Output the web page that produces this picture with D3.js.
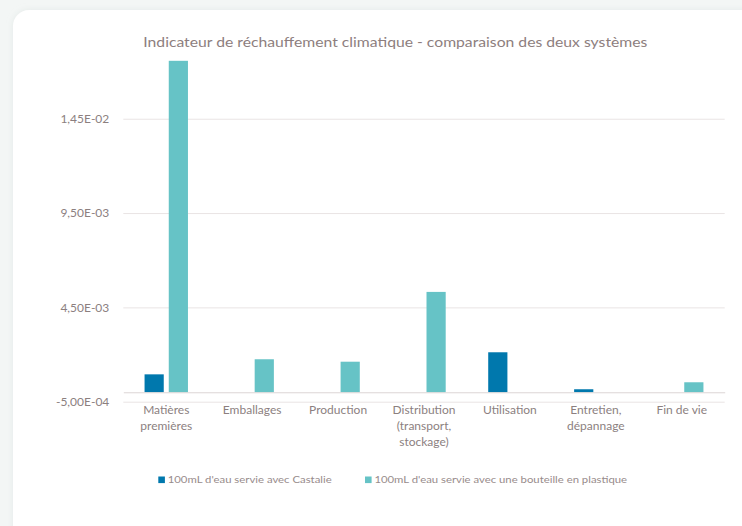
<!DOCTYPE html>
<html>
<head>
<meta charset="utf-8">
<script src="https://cdn.jsdelivr.net/npm/d3@7"></script>
<style>
  html, body { margin: 0; padding: 0; background: #f3f6f5; }
  svg { display: block; }
</style>
</head>
<body>
<svg id="chart" width="742" height="526"></svg>
<script>
// ---- data ----
const categories = ["Matières premières", "Emballages", "Production", "Distribution (transport, stockage)", "Utilisation", "Entretien, dépannage", "Fin de vie"];
const categoryLines = [["Matières", "premières"], ["Emballages"], ["Production"], ["Distribution", "(transport,", "stockage)"], ["Utilisation"], ["Entretien,", "dépannage"], ["Fin de vie"]];
const seriesNames = ["100mL d'eau servie avec Castalie", "100mL d'eau servie avec une bouteille en plastique"];
const castalie = [0.00095, 0, 0, 0, 0.00212, 0.00016, 0];
const plastique = [0.01757, 0.00175, 0.00162, 0.00532, 0, 0, 0.00053];
const yTicks = [-0.0005, 0.0045, 0.0095, 0.0145];
const yTickLabels = ["-5,00E-04", "4,50E-03", "9,50E-03", "1,45E-02"];
const title = "Indicateur de réchauffement climatique - comparaison des deux systèmes";
const colors = ["#0078ad", "#66c3c6"];

// ---- layout ----
const svg = d3.select("#chart");
const textCol = "#8c7f7f";
const font = "Lato, 'Open Sans', sans-serif";

// card
svg.append("defs").append("filter").attr("id", "sh")
  .attr("x", "-5%").attr("y", "-5%").attr("width", "110%").attr("height", "110%")
  .append("feDropShadow").attr("dx", 0).attr("dy", 0).attr("stdDeviation", 3)
  .attr("flood-color", "#c8d2d0").attr("flood-opacity", 0.35);
svg.append("rect").attr("x", 13).attr("y", 10).attr("width", 770).attr("height", 540)
  .attr("rx", 16).attr("fill", "#ffffff").attr("filter", "url(#sh)");

const plotLeft = 123.3, plotRight = 724.7;
const y = d3.scaleLinear().domain([-0.0005, 0.0195]).range([401.7, 24.4]);
const x = d3.scaleBand().domain(categories).range([plotLeft, plotRight]).paddingInner(0).paddingOuter(0);
const groupW = 43.4;
const xs = d3.scaleBand().domain([0, 1])
  .range([(x.bandwidth() - groupW) / 2, (x.bandwidth() + groupW) / 2])
  .paddingInner(0.207).paddingOuter(0);

// title
svg.append("text").attr("x", 143.3).attr("y", 46.5)
  .attr("font-family", font).attr("font-size", 14).attr("fill", "#8d7e7e")
  .attr("textLength", 504).attr("lengthAdjust", "spacingAndGlyphs")
  .text(title);

// gridlines via axis
const yAxis = d3.axisLeft(y).tickValues(yTicks).tickFormat((d, i) => yTickLabels[i])
  .tickSize(-(plotRight - plotLeft)).tickPadding(14);
const gy = svg.append("g").attr("transform", `translate(${plotLeft},0)`).call(yAxis);
gy.select(".domain").remove();
gy.selectAll(".tick line").attr("stroke", "#e9e4e4").attr("stroke-width", 1);
gy.selectAll(".tick text").attr("font-family", font).attr("font-size", 12)
  .attr("fill", textCol);

// bars
const data = categories.map((c, i) => ({ c, vals: [castalie[i], plastique[i]] }));
const groups = svg.append("g").selectAll("g").data(data).join("g")
  .attr("transform", d => `translate(${x(d.c)},0)`);
groups.selectAll("rect").data(d => d.vals.map((v, s) => ({ v, s }))).join("rect")
  .filter(d => d.v !== 0)
  .attr("x", d => xs(d.s))
  .attr("width", xs.bandwidth())
  .attr("y", d => y(Math.max(0, d.v)))
  .attr("height", d => Math.abs(y(d.v) - y(0)))
  .attr("fill", d => colors[d.s]);

// x axis line at zero
const xAxis = d3.axisBottom(x).tickSize(0).tickFormat("");
const gx = svg.append("g").attr("transform", `translate(0,${y(0)})`).call(xAxis);
gx.select(".domain").attr("stroke", "#dcd5d5").attr("stroke-width", 1);

// category labels
const labG = svg.append("g");
categories.forEach((c, i) => {
  const t = labG.append("text").attr("x", x(c) + x.bandwidth() / 2).attr("y", 414)
    .attr("text-anchor", "middle").attr("font-family", font).attr("font-size", 12)
    .attr("fill", textCol);
  categoryLines[i].forEach((ln, j) => {
    t.append("tspan").attr("x", x(c) + x.bandwidth() / 2).attr("dy", j === 0 ? 0 : 16).text(ln);
  });
});

// legend
const legX = [158.3, 365];
const legLen = [164, 252.7];
seriesNames.forEach((n, i) => {
  svg.append("rect").attr("x", legX[i]).attr("y", 476.5).attr("width", 6.6).attr("height", 6.6)
    .attr("fill", colors[i]);
  svg.append("text").attr("x", legX[i] + 9.4).attr("y", 483.2)
    .attr("font-family", font).attr("font-size", 8.6).attr("fill", "#978b8b")
    .attr("textLength", legLen[i]).attr("lengthAdjust", "spacingAndGlyphs")
    .text(n);
});
</script>
</body>
</html>
